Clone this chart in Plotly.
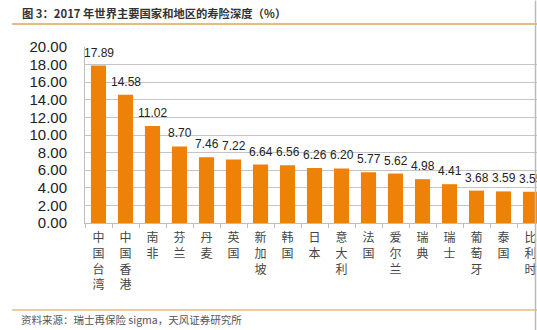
import plotly.graph_objects as go

categories = ["中国台湾", "中国香港", "南非", "芬兰", "丹麦", "英国", "新加坡", "韩国",
              "日本", "意大利", "法国", "爱尔兰", "瑞典", "瑞士", "葡萄牙", "泰国", "比利时"]
values = [17.89, 14.58, 11.02, 8.70, 7.46, 7.22, 6.64, 6.56, 6.26, 6.20, 5.77, 5.62,
          4.98, 4.41, 3.68, 3.59, 3.55]
y_ticks = [0, 2, 4, 6, 8, 10, 12, 14, 16, 18, 20]

title_text = "图 3：2017 年世界主要国家和地区的寿险深度（％）"
source_text = "资料来源：瑞士再保险 sigma，天风证券研究所"

BAR = "#EE8208"
CJK = "Noto Sans CJK SC"
LAT = "Liberation Sans, Arial"

fig = go.Figure()
fig.add_trace(go.Bar(
    x=categories, y=values, marker=dict(color=BAR, line=dict(width=0)),
    hoverinfo="skip",
))

for c, v in zip(categories, values):
    fig.add_annotation(x=c, y=v, text=f"{v:.2f}", showarrow=False,
                       yanchor="bottom", yshift=4,
                       font=dict(family=LAT, size=12, color="#222"))

fig.update_layout(
    width=537, height=330,
    margin=dict(l=85, r=0, t=47, b=107),
    paper_bgcolor="white", plot_bgcolor="white",
    bargap=0.44,
    showlegend=False,
    xaxis=dict(
        range=[-0.5, 16.24],
        tickvals=categories,
        ticktext=["<br>".join(list(c)) for c in categories],
        tickangle=0,
        tickfont=dict(family=CJK, size=12, color="#444"),
        showline=True, linecolor="#BFBFBF", linewidth=1,
        ticks="outside", ticklen=4, tickcolor="#BFBFBF", tickson="boundaries",
        showgrid=False, zeroline=False,
        ticklabelstandoff=4,
    ),
    yaxis=dict(
        range=[0, 20],
        tickvals=y_ticks,
        ticktext=[f"{t:.2f}" for t in y_ticks],
        tickfont=dict(family=LAT, size=15, color="#222"),
        showline=True, linecolor="#BFBFBF", linewidth=1,
        showgrid=True, gridcolor="#C4C4C4", gridwidth=1,
        zeroline=False,
        ticks="", ticklabelstandoff=14,
    ),
)

def px_x(px):
    return (px - 85) / 452

def px_y(py):
    return (222.6 - py) / 176

fig.add_annotation(xref="paper", yref="paper", x=px_x(20), y=px_y(13),
                   xanchor="left", yanchor="middle", showarrow=False,
                   text=title_text,
                   font=dict(family=CJK, size=11.3, color="#333", weight="bold"))
fig.add_annotation(xref="paper", yref="paper", x=px_x(19), y=px_y(319.5),
                   xanchor="left", yanchor="middle", showarrow=False,
                   text=source_text,
                   font=dict(family=CJK, size=10.5, color="#555"))

fig.add_shape(type="line", xref="paper", yref="paper",
              x0=px_x(12), x1=px_x(537), y0=px_y(23.5), y1=px_y(23.5),
              line=dict(color="#E3BC80", width=2))
fig.add_shape(type="line", xref="paper", yref="paper",
              x0=px_x(12), x1=px_x(537), y0=px_y(309.5), y1=px_y(309.5),
              line=dict(color="#E3BC80", width=1.5))
fig.add_shape(type="line", xref="paper", yref="paper",
              x0=px_x(535.5), x1=px_x(535.5), y0=px_y(0), y1=px_y(330),
              line=dict(color="#BBBBBB", width=1.5))

fig.write_html("out.html")
